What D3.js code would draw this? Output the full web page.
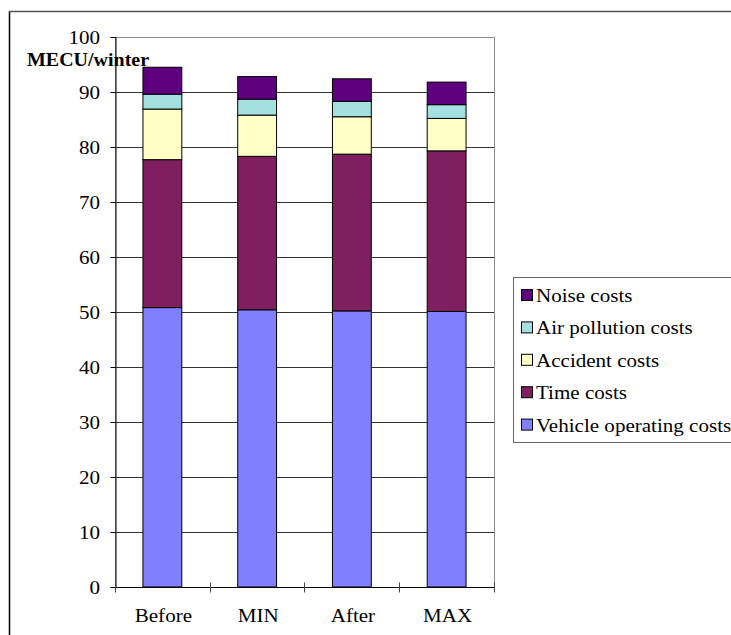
<!DOCTYPE html>
<html>
<head>
<meta charset="utf-8">
<script src="https://cdn.jsdelivr.net/npm/d3@7"></script>
<style>
  html, body { margin: 0; padding: 0; background: #fff; }
  svg { display: block; }
  text { font-family: "Liberation Serif", "Times New Roman", serif; fill: #000; }
</style>
</head>
<body>
<svg id="chart" width="731" height="635"></svg>
<script>
// Scenario categories along the x axis
const categories = ["Before", "MIN", "After", "MAX"];

// Cost components, bottom of the stack first
const seriesNames = ["Vehicle operating costs", "Time costs", "Accident costs", "Air pollution costs", "Noise costs"];
const seriesColors = ["#8080FF", "#7F1F5F", "#FFFFC6", "#A4E0E0", "#5E007E"];

// MECU per winter for each component and scenario
const vehicleOperating = [50.8, 50.4, 50.2, 50.1];
const timeCosts        = [26.9, 27.9, 28.5, 29.2];
const accidentCosts    = [9.2, 7.5, 6.8, 5.9];
const airPollution     = [2.7, 2.9, 2.8, 2.5];
const noiseCosts       = [4.9, 4.1, 4.1, 4.1];

const yTicks = [0, 10, 20, 30, 40, 50, 60, 70, 80, 90, 100];
const yLabel = "MECU/winter";

const seriesValues = [vehicleOperating, timeCosts, accidentCosts, airPollution, noiseCosts];
const table = categories.map((c, i) => {
  const row = { category: c };
  seriesNames.forEach((s, k) => { row[s] = seriesValues[k][i]; });
  return row;
});

const svg = d3.select("#chart");
const STRETCH = 1.08;   // slightly wide type
const FS = 19.5;

function label(g, x, y, str, anchor, bold, size) {
  return g.append("text")
    .attr("transform", `translate(${x},${y}) scale(${STRETCH},1)`)
    .attr("text-anchor", anchor || "start")
    .attr("font-size", size || FS)
    .attr("font-weight", bold ? "bold" : "normal")
    .text(str);
}

// Outer frame (left and top edges)
svg.append("line").attr("x1", 9.5).attr("x2", 9.5).attr("y1", 11).attr("y2", 635)
  .attr("stroke", "#000").attr("stroke-width", 1.5);
svg.append("line").attr("x1", 9).attr("x2", 731).attr("y1", 11.5).attr("y2", 11.5)
  .attr("stroke", "#555").attr("stroke-width", 1.5);

const plot = { left: 115, right: 494, top: 37, bottom: 587 };

const x = d3.scaleBand().domain(categories)
  .range([plot.left, plot.right]).paddingInner(0.59).paddingOuter(0.295);
const y = d3.scaleLinear().domain([0, 100]).range([plot.bottom, plot.top]);

// Plot area border
svg.append("rect")
  .attr("x", plot.left + 0.5).attr("y", plot.top + 0.5)
  .attr("width", plot.right - plot.left).attr("height", plot.bottom - plot.top)
  .attr("fill", "none").attr("stroke", "#8a8a8a").attr("stroke-width", 1);

// Horizontal gridlines
svg.append("g").selectAll("line")
  .data(yTicks.filter(t => t > 0 && t < 100))
  .join("line")
  .attr("x1", plot.left).attr("x2", plot.right)
  .attr("y1", d => Math.round(y(d)) + 0.5).attr("y2", d => Math.round(y(d)) + 0.5)
  .attr("stroke", "#333").attr("stroke-width", 1);

// Stacked bars
const stack = d3.stack().keys(seriesNames);
const layers = stack(table);
svg.append("g").selectAll("g")
  .data(layers)
  .join("g")
  .attr("fill", (d, i) => seriesColors[i])
  .selectAll("rect")
  .data(d => d)
  .join("rect")
  .attr("x", d => x(d.data.category))
  .attr("width", x.bandwidth())
  .attr("y", d => y(d[1]))
  .attr("height", d => y(d[0]) - y(d[1]))
  .attr("stroke", "#000").attr("stroke-width", 1);

// Y axis
const yAxisG = svg.append("g").attr("transform", `translate(${plot.left + 0.5},0)`);
yAxisG.call(d3.axisLeft(y).tickValues(yTicks).tickSize(5).tickFormat(""))
  .call(g => g.select(".domain").attr("stroke", "#000"));
yAxisG.selectAll(".tick line").attr("stroke", "#000");
yTicks.forEach(t => label(svg, 100, y(t) + 7, String(t), "end"));

// X axis with ticks between categories
const xAxisG = svg.append("g").attr("transform", `translate(0,${plot.bottom + 0.5})`);
xAxisG.append("line").attr("x1", plot.left).attr("x2", plot.right)
  .attr("stroke", "#000").attr("stroke-width", 1.2);
const boundaries = categories.map(c => x(c) - x.step() * x.paddingInner() / 2)
  .concat([plot.right]);
boundaries[0] = plot.left;
xAxisG.selectAll("line.tk").data(boundaries).join("line")
  .attr("class", "tk")
  .attr("x1", d => Math.round(d) + 0.5).attr("x2", d => Math.round(d) + 0.5)
  .attr("y1", -5).attr("y2", 5).attr("stroke", "#444");
categories.forEach(c => label(svg, x(c) + x.bandwidth() / 2 + 1, 622, c, "middle"));

// Axis unit title
label(svg, 27, 66, yLabel, "start", true, 18.5);

// Legend
const legend = svg.append("g");
legend.append("rect").attr("x", 513.5).attr("y", 277.5).attr("width", 230).attr("height", 165)
  .attr("fill", "#fff").attr("stroke", "#666").attr("stroke-width", 1);
const legendOrder = seriesNames.map((s, i) => ({ name: s, color: seriesColors[i] })).reverse();
legendOrder.forEach((d, i) => {
  const cy = 295 + i * 32.4;
  legend.append("rect").attr("x", 521.5).attr("y", cy - 5.5).attr("width", 11).attr("height", 11)
    .attr("fill", d.color).attr("stroke", "#000").attr("stroke-width", 1);
  label(legend, 536, cy + 7, d.name, "start");
});
</script>
</body>
</html>
